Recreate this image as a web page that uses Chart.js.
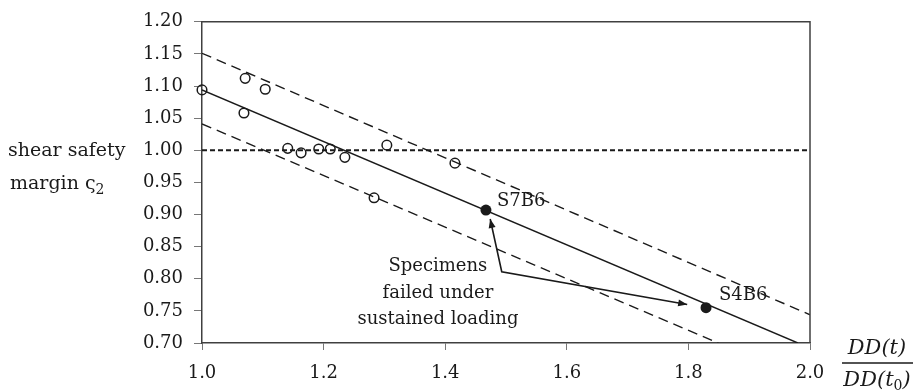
<!DOCTYPE html>
<html>
<head>
<meta charset="utf-8">
<script src="https://cdn.jsdelivr.net/npm/chart.js@4.4.1/dist/chart.umd.min.js"></script>
<style>
  html, body { margin: 0; padding: 0; background: #fff; }
  #wrap { position: relative; width: 916px; height: 390px; }
</style>
</head>
<body>
<div id="wrap"><canvas id="chart" width="916" height="390"></canvas></div>
<script>
// Test results: x = DD(t)/DD(t0), y = shear safety margin
const testX = [1.000, 1.071, 1.104, 1.069, 1.141, 1.163, 1.192, 1.211, 1.235, 1.304, 1.416, 1.283];
const testY = [1.094, 1.112, 1.095, 1.058, 1.003, 0.996, 1.002, 1.002, 0.989, 1.008, 0.980, 0.926];

// Specimens that failed under sustained loading
const failedNames = ['S7B6', 'S4B6'];
const failedX = [1.467, 1.829];
const failedY = [0.907, 0.755];

// Regression line and its bounds
const fitX = [1.0, 1.980];
const fitY = [1.094, 0.700];
const upperX = [1.0, 2.0];
const upperY = [1.151, 0.744];
const lowerX = [1.0, 1.849];
const lowerY = [1.041, 0.700];

// Limit line at margin = 1.0
const limitX = [1.0, 2.0];
const limitY = [1.0, 1.0];

// Arrow from note to both failed specimens (tip, corner, tip)
const arrowX = [1.474, 1.493, 1.798];
const arrowY = [0.893, 0.811, 0.760];

// Ticks
const xTicks = [1.0, 1.2, 1.4, 1.6, 1.8, 2.0];
const yTicks = [0.70, 0.75, 0.80, 0.85, 0.90, 0.95, 1.00, 1.05, 1.10, 1.15, 1.20];

const noteLines = ['Specimens', 'failed under', 'sustained loading'];

function pts(xs, ys) {
    return xs.map(function(x, i) { return { x: x, y: ys[i] }; });
}

const FONT = "'DejaVu Serif', 'Liberation Serif', serif";
const INK = '#1a1a1a';
Chart.defaults.font.family = FONT;
Chart.defaults.color = INK;

// box, arrowheads and texts
const extras = {
    id: 'extras',
    afterDatasetsDraw: function(chart) {
        const ctx = chart.ctx;
        const a = chart.chartArea;
        const xs = chart.scales.x, ys = chart.scales.y;
        ctx.save();

        // top and right frame
        ctx.strokeStyle = '#404040';
        ctx.lineWidth = 1.5;
        ctx.beginPath();
        ctx.moveTo(a.left, a.top);
        ctx.lineTo(a.right, a.top);
        ctx.lineTo(a.right, a.bottom);
        ctx.stroke();

        // arrowheads on both ends of the arrow line
        function head(i, j) {
            const tx = xs.getPixelForValue(arrowX[i]), ty = ys.getPixelForValue(arrowY[i]);
            const fx = xs.getPixelForValue(arrowX[j]), fy = ys.getPixelForValue(arrowY[j]);
            const ang = Math.atan2(ty - fy, tx - fx);
            const len = 9, half = 3.5;
            ctx.fillStyle = INK;
            ctx.beginPath();
            ctx.moveTo(tx, ty);
            ctx.lineTo(tx - len * Math.cos(ang) + half * Math.sin(ang), ty - len * Math.sin(ang) - half * Math.cos(ang));
            ctx.lineTo(tx - len * Math.cos(ang) - half * Math.sin(ang), ty - len * Math.sin(ang) + half * Math.cos(ang));
            ctx.closePath();
            ctx.fill();
        }
        head(0, 1);
        head(arrowX.length - 1, arrowX.length - 2);

        ctx.fillStyle = INK;
        ctx.font = '18px ' + FONT;
        ctx.textBaseline = 'middle';

        // specimen names
        ctx.textAlign = 'left';
        ctx.fillText(failedNames[0], xs.getPixelForValue(failedX[0]) + 11, ys.getPixelForValue(failedY[0]) - 9);
        ctx.fillText(failedNames[1], xs.getPixelForValue(failedX[1]) + 13, ys.getPixelForValue(failedY[1]) - 12);

        // note text
        ctx.textAlign = 'center';
        const nx = xs.getPixelForValue(1.388);
        const ny = ys.getPixelForValue(0.819);
        noteLines.forEach(function(t, i) { ctx.fillText(t, nx, ny + i * 26.5); });

        // y axis label
        ctx.textAlign = 'left';
        ctx.textBaseline = 'alphabetic';
        ctx.font = '19px ' + FONT;
        ctx.fillText('shear safety', 8, 156);
        ctx.fillText('margin ς', 10, 189);
        let w = ctx.measureText('margin ς').width;
        ctx.font = '14px ' + FONT;
        ctx.fillText('2', 10 + w, 194);

        // x axis label as fraction
        const cx = 877;
        ctx.font = 'italic 21px ' + FONT;
        ctx.textAlign = 'center';
        ctx.fillText('DD(t)', cx, 354);
        ctx.strokeStyle = INK;
        ctx.lineWidth = 1.3;
        ctx.beginPath();
        ctx.moveTo(842, 363);
        ctx.lineTo(913, 363);
        ctx.stroke();
        ctx.textAlign = 'left';
        const w1 = ctx.measureText('DD(t').width;
        ctx.font = '14px ' + FONT;
        const w0 = ctx.measureText('0').width;
        ctx.font = 'italic 21px ' + FONT;
        const w2 = ctx.measureText(')').width;
        const sx = cx - (w1 + w0 + w2) / 2;
        ctx.fillText('DD(t', sx, 386);
        ctx.font = '14px ' + FONT;
        ctx.fillText('0', sx + w1, 390);
        ctx.font = 'italic 21px ' + FONT;
        ctx.fillText(')', sx + w1 + w0, 386);

        ctx.restore();
    }
};

function lineSet(xs, ys, width, dash) {
    return {
        data: pts(xs, ys),
        showLine: true,
        borderColor: INK,
        borderWidth: width,
        borderDash: dash,
        pointRadius: 0,
        pointHoverRadius: 0,
        fill: false
    };
}

new Chart(document.getElementById('chart'), {
    type: 'scatter',
    data: {
        datasets: [
            {
                data: pts(failedX, failedY),
                backgroundColor: INK,
                borderColor: INK,
                pointRadius: 5.5,
                borderWidth: 0
            },
            {
                data: pts(testX, testY),
                backgroundColor: 'rgba(0,0,0,0)',
                borderColor: INK,
                pointRadius: 4.8,
                borderWidth: 1.5,
                clip: false
            },
            lineSet(arrowX, arrowY, 1.6, []),
            lineSet(fitX, fitY, 1.4, []),
            lineSet(upperX, upperY, 1.4, [10, 6]),
            lineSet(lowerX, lowerY, 1.4, [10, 6]),
            lineSet(limitX, limitY, 2, [5, 3])
        ]
    },
    options: {
        responsive: false,
        animation: false,
        layout: { padding: { top: 20, right: 106, bottom: 0, left: 0 } },
        plugins: {
            legend: { display: false },
            tooltip: { enabled: false }
        },
        scales: {
            x: {
                type: 'linear',
                min: 1.0,
                max: 2.0,
                afterFit: function(s) { s.height = 47; },
                afterBuildTicks: function(s) { s.ticks = xTicks.map(function(v) { return { value: v }; }); },
                ticks: {
                    font: { size: 18 },
                    color: INK,
                    padding: 13,
                    maxRotation: 0,
                    callback: function(v) { return Number(v).toFixed(1); }
                },
                grid: { drawOnChartArea: false, drawTicks: true, tickLength: 7, color: '#777', lineWidth: 1 },
                border: { color: '#404040', width: 1.5 }
            },
            y: {
                type: 'linear',
                min: 0.70,
                max: 1.20,
                afterFit: function(s) { s.width = 202; },
                afterBuildTicks: function(s) { s.ticks = yTicks.map(function(v) { return { value: v }; }); },
                ticks: {
                    font: { size: 18 },
                    color: INK,
                    padding: 11,
                    callback: function(v) { return Number(v).toFixed(2); }
                },
                grid: { drawOnChartArea: false, drawTicks: true, tickLength: 8, color: '#777', lineWidth: 1 },
                border: { color: '#404040', width: 1.5 }
            }
        }
    },
    plugins: [extras]
});
</script>
</body>
</html>
